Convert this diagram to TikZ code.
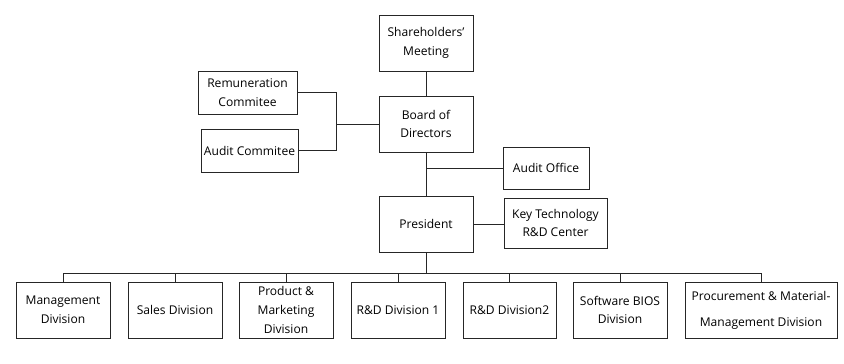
\documentclass[tikz,border=0pt]{standalone}
\usepackage{fontspec}
\setmainfont{Open Sans}
\usepackage{tikz}
\usetikzlibrary{positioning, calc}

\begin{document}
\begin{tikzpicture}[
    x=0.3mm, y=-0.3mm,
    box/.style={draw=black!85, line width=0.8pt, align=center, font=\fontsize{10.3}{16}\selectfont, inner sep=1pt, minimum height=16.8mm, minimum width=28.2mm},
    link/.style={draw=black!85, line width=0.8pt}
]
\useasboundingbox (0,0) rectangle (844,364);
% Top of the chart
\node[box] (share) at (426,43) {Shareholders'\\ Meeting};
\node[box] (board) at (426,124) {Board of\\ Directors};
\node[box] (pres) at (426,224) {President};
% Committees and side units
\node[box, minimum width=29.7mm, minimum height=12.9mm] (remun) at (247.5,92.5) {Remuneration\\ Commitee};
\node[box, minimum width=29.1mm, minimum height=12.9mm] (auditc) at (249.5,150.5) {Audit Commitee};
\node[box, minimum width=25.8mm, minimum height=12.6mm] (auditoff) at (546,168) {Audit Office};
\node[box, minimum width=30.9mm, minimum height=15mm] (keytech) at (555.5,223) {Key Technology\\ R\&D Center};
% Divisions
\node[box] (mgmt) at (63,310) {Management\\ Division};
\node[box] (sales) at (175,310) {Sales Division};
\node[box] (prod) at (286,310) {Product \&\\ Marketing\\ Division};
\node[box] (rdone) at (398,310) {R\&D Division 1};
\node[box, minimum width=27.9mm] (rdtwo) at (509.5,310) {R\&D Division2};
\node[box] (soft) at (620,310) {Software BIOS\\ Division};
\node[box, minimum width=45.6mm] (proc) at (761,310) {Procurement \& Material-\\[6pt] Management Division};
% Links
\draw[link] (share) -- (board);
\draw[link] (board) -- (pres);
\draw[link] (board.west) -- ++(-42,0) coordinate (brk);
\draw[link] (remun.east) -| (brk);
\draw[link] (auditc.east) -| (brk);
\draw[link] (auditoff.west) -- (auditoff.west -| board.south);
\draw[link] (pres.east) -- (pres.east -| keytech.west);
\foreach \n in {mgmt, sales, prod, rdone, rdtwo, soft, proc}
    \draw[link] (pres.south) -- ++(0,21) -| (\n.north);
\end{tikzpicture}
\end{document}
